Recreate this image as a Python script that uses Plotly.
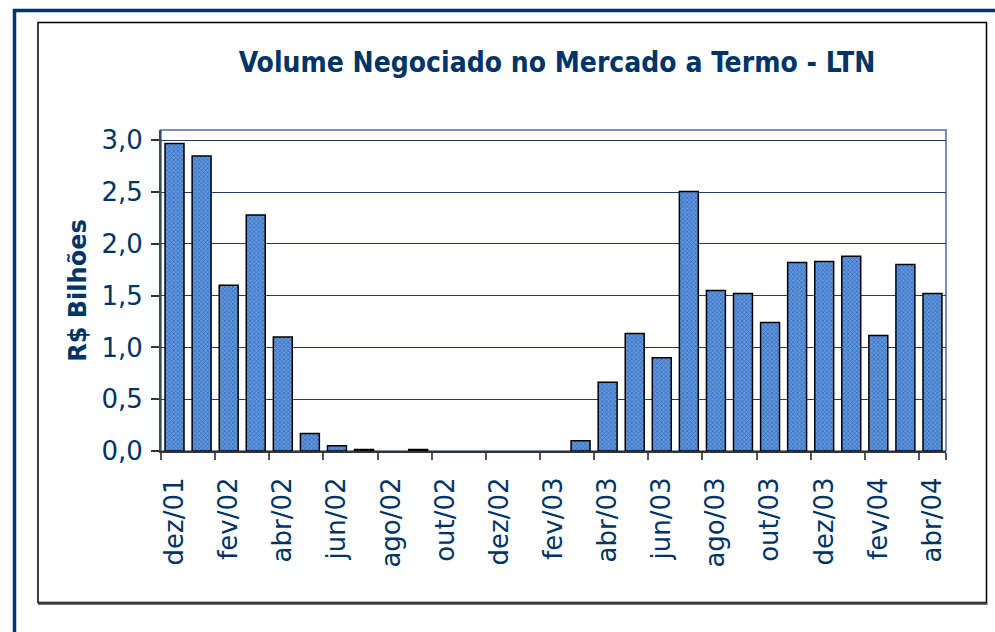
import plotly.graph_objs as go

meses = ['dez/01', 'jan/02', 'fev/02', 'mar/02', 'abr/02', 'mai/02', 'jun/02', 'jul/02',
         'ago/02', 'set/02', 'out/02', 'nov/02', 'dez/02', 'jan/03', 'fev/03', 'mar/03',
         'abr/03', 'mai/03', 'jun/03', 'jul/03', 'ago/03', 'set/03', 'out/03', 'nov/03',
         'dez/03', 'jan/04', 'fev/04', 'mar/04', 'abr/04']
# meses sem negociacao ficam em branco (None)
volume = [2.97, 2.85, 1.60, 2.28, 1.10, 0.17, 0.05, 0.015,
          None, 0.015, None, None, None, None, None, 0.10,
          0.665, 1.135, 0.90, 2.505, 1.55, 1.52, 1.24, 1.82,
          1.83, 1.88, 1.115, 1.80, 1.52]
y_ticks = [0, 0.5, 1.0, 1.5, 2.0, 2.5, 3.0]
y_labels = ['0,0', '0,5', '1,0', '1,5', '2,0', '2,5', '3,0']

navy = '#003366'

fig = go.Figure()
fig.add_trace(go.Bar(
    x=meses, y=volume,
    marker=dict(color='#5b95e0',
                line=dict(color='black', width=1.5),
                pattern=dict(shape='x', size=3, solidity=0.45,
                             fgcolor='#1a3f7a', bgcolor='#5e98e2')),
))

fig.update_layout(
    width=995, height=632,
    margin=dict(l=161, r=49, t=130, b=181),
    paper_bgcolor='white', plot_bgcolor='white',
    showlegend=False, bargap=0.3,
    font=dict(family='DejaVu Sans', color=navy),
    title=dict(text='<b>Volume Negociado no Mercado a Termo - LTN</b>',
               font=dict(family='DejaVu Sans Condensed', size=28, color=navy),
               x=557 / 995, xanchor='center', xref='container',
               y=1 - 62 / 632, yanchor='middle', yref='container'),
    shapes=[
        # moldura azul externa
        dict(type='rect', xref='paper', yref='paper',
             x0=(14.5 - 161) / 785, x1=(1020 - 161) / 785,
             y0=(451 - 660) / 321, y1=(451 - 10.5) / 321,
             line=dict(color=navy, width=3.5), layer='below'),
        # caixa interna
        dict(type='rect', xref='paper', yref='paper',
             x0=(38 - 161) / 785, x1=(986.5 - 161) / 785,
             y0=(451 - 602.5) / 321, y1=(451 - 22.5) / 321,
             line=dict(color='black', width=1.5), layer='below'),
        dict(type='line', xref='paper', yref='paper',
             x0=(38 - 161) / 785, x1=(987.5 - 161) / 785,
             y0=(451 - 603.5) / 321, y1=(451 - 603.5) / 321,
             line=dict(color='#404040', width=2.5)),
        # borda da area do grafico
        dict(type='rect', xref='paper', yref='paper', x0=0, x1=1, y0=0, y1=1,
             line=dict(color='#4f6f9c', width=1.5), layer='below'),
    ],
)

fig.update_xaxes(
    type='category', tickson='boundaries',
    tickvals=meses[::2], ticktext=meses[::2],
    tickangle=-90, tickfont=dict(size=26, color=navy),
    ticks='outside', ticklen=7, tickcolor='#555555', tickwidth=1.5,
    ticklabelstandoff=14,
    showline=True, linecolor='#333333', linewidth=2,
    showgrid=False, zeroline=False,
)
fig.update_yaxes(
    range=[0, 3.1], tickvals=y_ticks, ticktext=y_labels,
    tickfont=dict(size=26, color=navy),
    ticks='outside', ticklen=8, tickcolor='#333333', tickwidth=1.5,
    ticklabelstandoff=3,
    showline=True, linecolor='#3a4a5a', linewidth=2,
    showgrid=True, gridcolor='#1f3d6b', gridwidth=1, zeroline=False,
    title=dict(text='<b>R$ Bilhões</b>', font=dict(size=24, color=navy), standoff=8),
)

fig.write_html('out.html', config={'displayModeBar': False},
               post_script="document.body.style.margin='0px';")
